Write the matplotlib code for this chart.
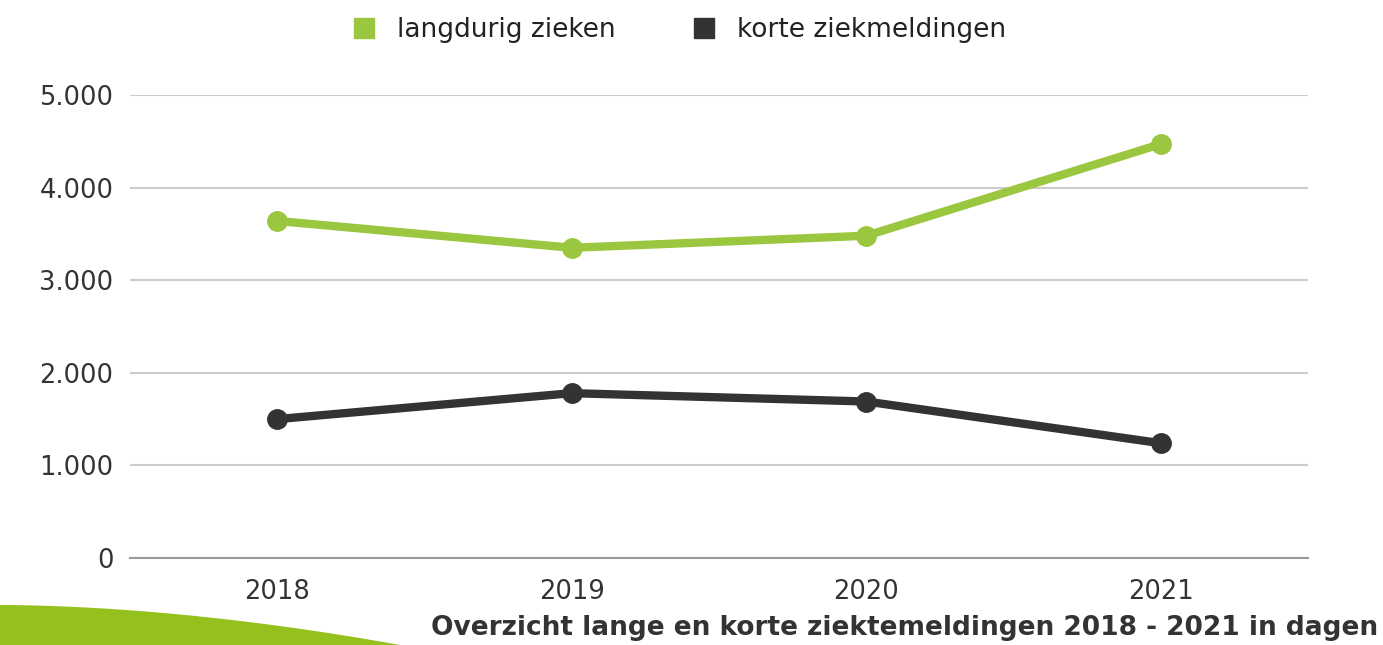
import numpy as np
import matplotlib.pyplot as plt
from matplotlib.patches import Polygon
from matplotlib.lines import Line2D

# gegevens
jaren = ['2018', '2019', '2020', '2021']
langdurig = [3640, 3350, 3480, 4470]
kort = [1500, 1780, 1690, 1240]
y_ticks = [0, 1000, 2000, 3000, 4000, 5000]
y_labels = ['0', '1.000', '2.000', '3.000', '4.000', '5.000']

groen = '#9bc63f'
donker = '#333333'

plt.rcParams['font.family'] = ['DejaVu Sans']

fig = plt.figure(figsize=(13.83, 6.45), dpi=100)
ax = fig.add_axes([130 / 1383, 1 - 558 / 645, (1308 - 130) / 1383, (558 - 95) / 645])

x = np.arange(len(jaren))
ax.plot(x, langdurig, color=groen, lw=6, marker='o', ms=14, solid_capstyle='round', zorder=3)
ax.plot(x, kort, color=donker, lw=6, marker='o', ms=14, solid_capstyle='round', zorder=3)

ax.set_xlim(-0.5, 3.5)
ax.set_ylim(0, 5000)
ax.set_xticks(x)
ax.set_xticklabels(jaren)
ax.set_yticks(y_ticks)
ax.set_yticklabels(y_labels)
ax.tick_params(length=0, labelsize=18.5, colors='#333333', pad=12)
ax.tick_params(axis='x', pad=15)
ax.grid(axis='y', color='#cccccc', lw=1.5)
ax.set_axisbelow(True)
for s in ['top', 'right', 'left']:
    ax.spines[s].set_visible(False)
ax.spines['bottom'].set_color('#999999')
ax.spines['bottom'].set_linewidth(1.5)

# legenda
handles = [Line2D([], [], ls='none', marker='s', ms=15, color=groen),
           Line2D([], [], ls='none', marker='s', ms=15, color=donker)]
fig.legend(handles, ['langdurig zieken', 'korte ziekmeldingen'], loc='center',
           bbox_to_anchor=(680 / 1383, 1 - 30 / 645), ncol=2, frameon=False,
           fontsize=19, handlelength=0.7, handletextpad=0.9, columnspacing=3.0,
           labelcolor='#222222')

# groene boog linksonder
t = np.linspace(0, 1, 60)
bx = 400 * t
by = 645 - (40 * (1 - t ** 1.8))
pts = [(px / 1383, 1 - py / 645) for px, py in zip(bx, by)]
pts = [(0, 0)] + pts + [(400 / 1383, 0)]
fig.patches.append(Polygon(pts, closed=True, transform=fig.transFigure, color='#95c11f', lw=0))

fig.text(1378 / 1383, 1 - 628 / 645, 'Overzicht lange en korte ziektemeldingen 2018 - 2021 in dagen',
         ha='right', va='center', fontsize=19, fontweight='bold', color='#333333')

fig.savefig('out.png', dpi=100)
